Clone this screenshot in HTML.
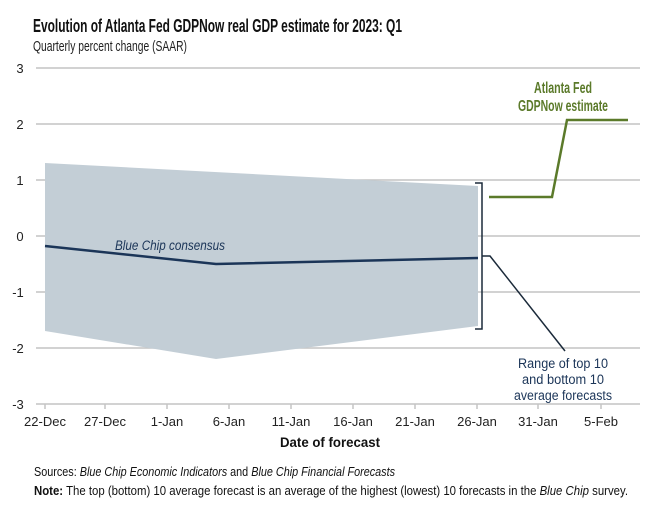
<!DOCTYPE html>
<html><head><meta charset="utf-8"><style>
body{margin:0;background:#fff;}
svg{display:block;font-family:"Liberation Sans",sans-serif;}
</style></head><body>
<svg width="661" height="517" viewBox="0 0 661 517">
<text x="33" y="32" font-size="18.5" font-weight="bold" fill="#111" textLength="369" lengthAdjust="spacingAndGlyphs">Evolution of Atlanta Fed GDPNow real GDP estimate for 2023: Q1</text>
<text x="33" y="51" font-size="15" fill="#222" textLength="154" lengthAdjust="spacingAndGlyphs">Quarterly percent change (SAAR)</text>
<g stroke="#c4c4c4" stroke-width="1.5">
<line x1="36" y1="68" x2="640" y2="68"/><line x1="36" y1="124" x2="640" y2="124"/>
<line x1="36" y1="180" x2="640" y2="180"/><line x1="36" y1="236" x2="640" y2="236"/>
<line x1="36" y1="292" x2="640" y2="292"/><line x1="36" y1="348" x2="640" y2="348"/>
<line x1="36" y1="404" x2="640" y2="404"/>
<line x1="45" y1="404" x2="45" y2="409"/><line x1="105" y1="404" x2="105" y2="409"/><line x1="167" y1="404" x2="167" y2="409"/><line x1="229" y1="404" x2="229" y2="409"/><line x1="291" y1="404" x2="291" y2="409"/><line x1="353" y1="404" x2="353" y2="409"/><line x1="415" y1="404" x2="415" y2="409"/><line x1="477" y1="404" x2="477" y2="409"/><line x1="538" y1="404" x2="538" y2="409"/><line x1="601" y1="404" x2="601" y2="409"/>
</g>
<g font-size="13" fill="#222" text-anchor="middle">
<text x="20" y="73">3</text><text x="20" y="129">2</text><text x="20" y="185">1</text><text x="20" y="241">0</text><text x="18" y="297">-1</text><text x="18" y="353">-2</text><text x="18" y="409">-3</text>
<text x="45" y="426">22-Dec</text><text x="105" y="426">27-Dec</text><text x="167" y="426">1-Jan</text><text x="229" y="426">6-Jan</text><text x="291" y="426">11-Jan</text><text x="353" y="426">16-Jan</text><text x="415" y="426">21-Jan</text><text x="477" y="426">26-Jan</text><text x="538" y="426">31-Jan</text><text x="601" y="426">5-Feb</text>
</g>
<polygon points="45,163 478,186 478,326 216,359 45,331" fill="#c3ced6"/>
<polyline points="45,246 216,264 478,258" fill="none" stroke="#1b3558" stroke-width="2.5"/>
<text x="170" y="250" font-size="13.5" font-style="italic" fill="#1b3558" text-anchor="middle" textLength="110" lengthAdjust="spacingAndGlyphs">Blue Chip consensus</text>
<path d="M475,183 H482 V329 H475 M482,256 H490 L565,351" fill="none" stroke="#1b2a3a" stroke-width="1.5"/>
<polyline points="489,197 552,197 567,120 628,120" fill="none" stroke="#5b7a2a" stroke-width="2.5"/>
<g font-size="15.5" font-weight="bold" fill="#5b7a2a" text-anchor="middle">
<text x="563" y="93" textLength="58" lengthAdjust="spacingAndGlyphs">Atlanta Fed</text><text x="563" y="111" textLength="90" lengthAdjust="spacingAndGlyphs">GDPNow estimate</text></g>
<g font-size="13.5" fill="#1b3558" text-anchor="middle">
<text x="563" y="368" textLength="90" lengthAdjust="spacingAndGlyphs">Range of top 10</text><text x="563" y="384" textLength="82" lengthAdjust="spacingAndGlyphs">and bottom 10</text><text x="563" y="400" textLength="98" lengthAdjust="spacingAndGlyphs">average forecasts</text></g>
<text x="330" y="447" font-size="14" font-weight="bold" fill="#111" text-anchor="middle" textLength="100" lengthAdjust="spacingAndGlyphs">Date of forecast</text>
<text x="34" y="476" font-size="12.5" fill="#111" textLength="361" lengthAdjust="spacingAndGlyphs">Sources: <tspan font-style="italic">Blue Chip Economic Indicators</tspan> and <tspan font-style="italic">Blue Chip Financial Forecasts</tspan></text>
<text x="34" y="495" font-size="12.5" fill="#111" textLength="594" lengthAdjust="spacingAndGlyphs"><tspan font-weight="bold">Note:</tspan> The top (bottom) 10 average forecast is an average of the highest (lowest) 10 forecasts in the <tspan font-style="italic">Blue Chip</tspan> survey.</text>
</svg>
</body></html>
